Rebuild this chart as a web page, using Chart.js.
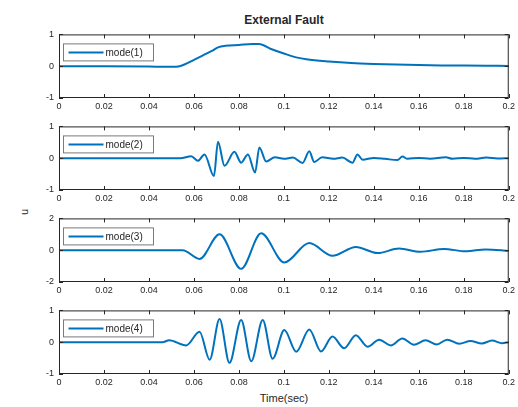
<!DOCTYPE html>
<html>
<head>
<meta charset="utf-8">
<script src="https://cdn.jsdelivr.net/npm/chart.js@4.4.1/dist/chart.umd.min.js"></script>
<style>
body { margin: 0; background: #fff; }
#fig { position: relative; width: 518px; height: 407px; font-family: "Liberation Sans", Arial, sans-serif; color: #262626; }
#fig canvas { position: absolute; left: 0; }
.lbl { position: absolute; white-space: nowrap; transform: translate(-50%, -50%); }
</style>
</head>
<body>
<div id="fig">
  <div class="lbl" style="left:284px; top:20px; font-size:12px; font-weight:bold;">External Fault</div>
  <div class="lbl" style="left:24px; top:212px; font-size:11px; transform: translate(-50%, -50%) rotate(-90deg);">u</div>
  <div class="lbl" style="left:284px; top:398px; font-size:11px;">Time(sec)</div>
  <canvas id="c1" width="518" height="92" style="top:24px"></canvas>
  <canvas id="c2" width="518" height="92" style="top:116px"></canvas>
  <canvas id="c3" width="518" height="92" style="top:208px"></canvas>
  <canvas id="c4" width="518" height="92" style="top:300px"></canvas>
</div>
<script>
// time axis ticks shared by every subplot
var xTicks = [0, 0.02, 0.04, 0.06, 0.08, 0.1, 0.12, 0.14, 0.16, 0.18, 0.2];

// mode(1): slow hump
var t1 = [0, 0.02, 0.04, 0.048, 0.053, 0.056, 0.06, 0.064, 0.068, 0.071, 0.074, 0.08, 0.086, 0.089,
          0.094, 0.1, 0.106, 0.11, 0.12, 0.13, 0.14, 0.15, 0.16, 0.17, 0.18, 0.19, 0.2];
var u1 = [0, 0, -0.01, -0.02, -0.01, 0.06, 0.2, 0.34, 0.48, 0.6, 0.64, 0.67, 0.7, 0.7,
          0.55, 0.4, 0.27, 0.22, 0.15, 0.1, 0.07, 0.05, 0.035, 0.025, 0.02, 0.015, 0.01];

// mode(2): high frequency burst
var t2 = [0, 0.054, 0.0588, 0.0618, 0.0647, 0.0689, 0.0707, 0.0736, 0.078, 0.081, 0.084, 0.0872, 0.0891,
          0.0921, 0.096, 0.1, 0.104, 0.1083, 0.1113, 0.1135, 0.117, 0.122, 0.126, 0.1305, 0.1327, 0.135,
          0.14, 0.145, 0.1505, 0.1527, 0.155, 0.16, 0.165, 0.172, 0.175, 0.18, 0.185, 0.19, 0.195, 0.2];
var u2 = [0, 0, 0.06, -0.08, 0.12, -0.56, 0.52, -0.24, 0.2, -0.14, 0.12, -0.45, 0.34,
          -0.1, 0.03, -0.02, 0.02, -0.15, 0.22, -0.12, 0.03, -0.02, 0.02, -0.14, 0.12, -0.05,
          0.01, -0.02, -0.06, 0.05, -0.02, 0.01, -0.02, 0.03, -0.02, 0.01, -0.02, 0.02, -0.01, 0];

// mode(3): low frequency oscillation
var t3 = [0, 0.055, 0.0625, 0.0714, 0.081, 0.0899, 0.1002, 0.1113, 0.1216, 0.132, 0.1416, 0.1512,
          0.1608, 0.1712, 0.1808, 0.1897, 0.2];
var u3 = [0, 0, -0.55, 1.0, -1.17, 1.06, -0.77, 0.45, -0.35, 0.2, -0.18, 0.1,
          -0.1, 0.08, -0.07, 0.05, -0.05];

// mode(4)
var t4 = [0, 0.046, 0.049, 0.0566, 0.0625, 0.067, 0.0714, 0.0758, 0.081, 0.0855, 0.0906, 0.095, 0.1002,
          0.1055, 0.1113, 0.1165, 0.1216, 0.1268, 0.132, 0.1372, 0.1424, 0.1475, 0.1527, 0.1578, 0.163,
          0.168, 0.1726, 0.178, 0.183, 0.188, 0.1926, 0.197, 0.2];
var u4 = [0, 0, 0.06, -0.1, 0.33, -0.55, 0.73, -0.65, 0.7, -0.6, 0.7, -0.52, 0.38,
          -0.3, 0.4, -0.29, 0.18, -0.19, 0.22, -0.14, 0.08, -0.1, 0.12, -0.08, 0.06,
          -0.07, 0.08, -0.05, 0.04, -0.04, 0.05, -0.03, 0];

var yTicks12 = [-1, 0, 1];
var yTicks3 = [-2, 0, 2];

var lineColor = '#0072BD';
var axisColor = '#262626';
var tickFont = { family: '"Liberation Sans", Arial, sans-serif', size: 9 };

// axes box, inward ticks and a boxed legend in the upper left corner
var framePlugin = {
    id: 'frame',
    afterDraw: function(chart) {
        var ctx = chart.ctx;
        var a = chart.chartArea;
        var xs = chart.scales.x, ys = chart.scales.y;
        ctx.save();
        ctx.strokeStyle = axisColor;
        ctx.lineWidth = 1;
        ctx.strokeRect(a.left + 0.5, a.top + 0.5, a.right - a.left - 1, a.bottom - a.top - 1);
        ctx.beginPath();
        xs.ticks.forEach(function(t) {
            var px = Math.round(xs.getPixelForValue(t.value)) + 0.5;
            ctx.moveTo(px, a.bottom); ctx.lineTo(px, a.bottom - 4);
            ctx.moveTo(px, a.top); ctx.lineTo(px, a.top + 4);
        });
        ys.ticks.forEach(function(t) {
            var py = Math.round(ys.getPixelForValue(t.value)) + 0.5;
            ctx.moveTo(a.left, py); ctx.lineTo(a.left + 4, py);
            ctx.moveTo(a.right, py); ctx.lineTo(a.right - 4, py);
        });
        ctx.stroke();

        // legend
        var bx = a.left + 4.5, by = a.top + 9.5, bw = 90, bh = 17;
        ctx.fillStyle = '#fff';
        ctx.fillRect(bx, by, bw, bh);
        ctx.strokeStyle = '#7a7a7a';
        ctx.strokeRect(bx, by, bw, bh);
        ctx.strokeStyle = lineColor;
        ctx.lineWidth = 2;
        ctx.beginPath();
        ctx.moveTo(bx + 5, by + bh / 2);
        ctx.lineTo(bx + 40, by + bh / 2);
        ctx.stroke();
        ctx.fillStyle = axisColor;
        ctx.font = '10px "Liberation Sans", Arial, sans-serif';
        ctx.textBaseline = 'middle';
        ctx.fillText(chart.data.datasets[0].label, bx + 42, by + bh / 2 + 0.5);
        ctx.restore();
    }
};

function makeChart(id, times, values, name, yTicks) {
    var points = times.map(function(t, i) { return { x: t, y: values[i] }; });
    return new Chart(document.getElementById(id), {
        type: 'line',
        data: {
            datasets: [{
                label: name,
                data: points,
                borderColor: lineColor,
                borderWidth: 2,
                pointRadius: 0,
                cubicInterpolationMode: 'monotone',
                fill: false
            }]
        },
        options: {
            responsive: false,
            animation: false,
            layout: { padding: { top: 10, right: 8, left: 0, bottom: 0 } },
            plugins: { legend: { display: false }, tooltip: { enabled: false } },
            scales: {
                x: {
                    type: 'linear',
                    min: 0,
                    max: 0.2,
                    grid: { display: false, drawTicks: false },
                    border: { display: false },
                    afterBuildTicks: function(scale) {
                        scale.ticks = xTicks.map(function(v) { return { value: v }; });
                    },
                    afterFit: function(scale) { scale.height = 18; },
                    ticks: {
                        padding: 3,
                        maxRotation: 0,
                        autoSkip: false,
                        color: axisColor,
                        font: tickFont,
                        callback: function(v) { return String(v); }
                    }
                },
                y: {
                    min: yTicks[0],
                    max: yTicks[yTicks.length - 1],
                    grid: { display: false, drawTicks: false },
                    border: { display: false },
                    afterBuildTicks: function(scale) {
                        scale.ticks = yTicks.map(function(v) { return { value: v }; });
                    },
                    afterFit: function(scale) { scale.width = 59; },
                    ticks: {
                        padding: 5,
                        color: axisColor,
                        font: tickFont,
                        callback: function(v) { return String(v); }
                    }
                }
            }
        },
        plugins: [framePlugin]
    });
}

makeChart('c1', t1, u1, 'mode(1)', yTicks12);
makeChart('c2', t2, u2, 'mode(2)', yTicks12);
makeChart('c3', t3, u3, 'mode(3)', yTicks3);
makeChart('c4', t4, u4, 'mode(4)', yTicks12);
</script>
</body>
</html>
